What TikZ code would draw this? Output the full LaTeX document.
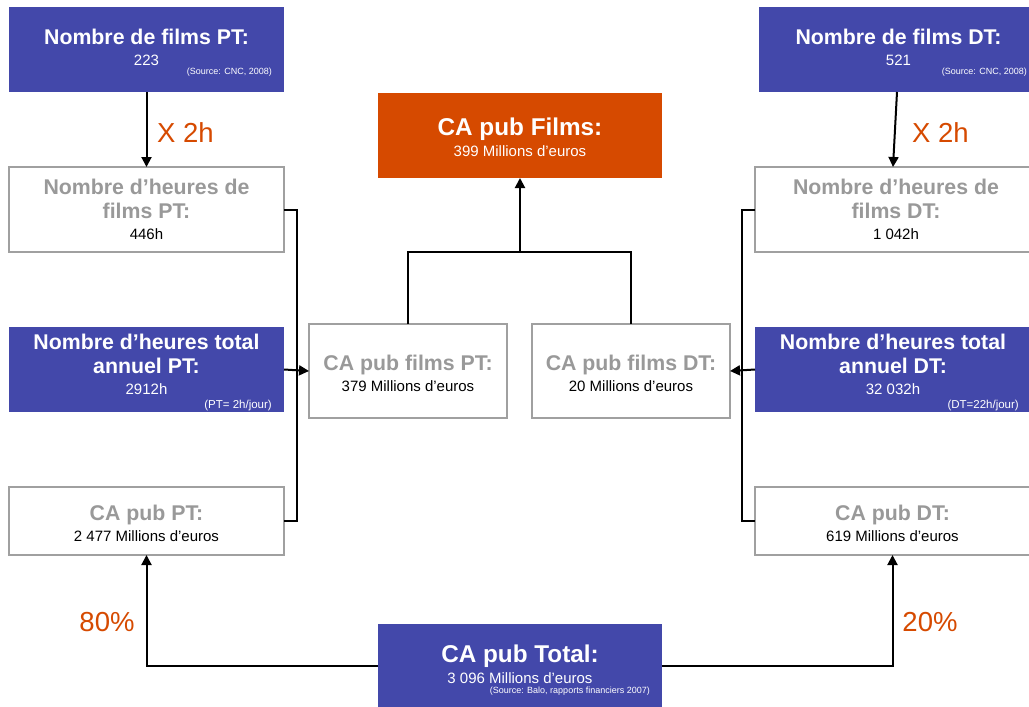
\documentclass[tikz,border=0pt]{standalone}
\usepackage{fontspec}
\setmainfont{Liberation Sans}
\usetikzlibrary{arrows.meta,calc}

\definecolor{boxblue}{RGB}{67,72,170}
\definecolor{boxorange}{RGB}{214,74,0}
\definecolor{labelorange}{RGB}{214,74,0}
\definecolor{framegray}{RGB}{160,160,160}
\definecolor{titlegray}{RGB}{153,153,153}

% title, big title, value text
\newcommand{\ttl}[1]{{\fontsize{21.3}{25}\selectfont\bfseries #1}}
\newcommand{\bigttl}[1]{{\fontsize{24.3}{28}\selectfont\bfseries #1}}
\newcommand{\midttl}[1]{{\fontsize{21.3}{25}\selectfont\bfseries #1}}
\newcommand{\val}[1]{{\fontsize{15}{18}\selectfont #1}}

\tikzset{
  basebox/.style={rectangle, inner sep=0pt, outer sep=0pt, align=center,
    font=\fontsize{15}{21}\selectfont},
  bluebox/.style={basebox, fill=boxblue, text=white},
  orangebox/.style={basebox, fill=boxorange, text=white},
  graybox/.style={basebox, draw=framegray, line width=1.5pt, fill=white},
  srcnote/.style={anchor=east, text=white, inner sep=0pt, font=\fontsize{9}{11}\selectfont},
  opnote/.style={text=labelorange, inner sep=0pt, font=\fontsize{27.5}{32}\selectfont},
  link/.style={draw=black, line width=2pt},
  arr/.style={link, -{Triangle[length=10pt,width=10pt]}},
}

\begin{document}
\begin{tikzpicture}[x=1pt,y=-1pt]
\clip (0,0) rectangle (1029,707);
\fill[white] (0,0) rectangle (1029,707);

% top source boxes
\node[bluebox, minimum width=275, minimum height=85] (fpt) at (146.5,49.5)
  {\ttl{Nombre de films PT:}\\\val{223}\\[-17pt]\mbox{}};
\node[srcnote] (fptsrc) at ([xshift=-12pt,yshift=20pt]fpt.south east) {(Source: CNC, 2008)};

\node[bluebox, minimum width=279, minimum height=85] (fdt) at (898.5,49.5)
  {\ttl{Nombre de films DT:}\\\val{521}\\[-17pt]\mbox{}};
\node[srcnote] (fdtsrc) at ([xshift=-11pt,yshift=20pt]fdt.south east) {(Source: CNC, 2008)};

% result box
\node[orangebox, minimum width=284, minimum height=85] (cafilms) at (520,135.5)
  {\bigttl{CA pub Films:}\\[0pt]\val{399 Millions d’euros}\\[-23.5pt]\mbox{}};

% hours of films
\node[graybox, minimum width=275, minimum height=85, text=titlegray] (hpt) at (146.5,209.5)
  {\ttl{Nombre d’heures de}\\[3pt]\ttl{films PT:}\\\textcolor{black}{\val{446h}}};
\node[graybox, minimum width=282, minimum height=85, text=titlegray] (hdt) at (896,209.5)
  {\ttl{Nombre d’heures de}\\[3pt]\ttl{films DT:}\\\textcolor{black}{\val{1 042h}}};

% total yearly hours
\node[bluebox, minimum width=275, minimum height=85] (htpt) at (146.5,369.5)
  {\ttl{Nombre d’heures total}\\[3pt]\ttl{annuel PT:}\\\val{2912h}\\[-11pt]\mbox{}};
\node[srcnote, font=\fontsize{11.5}{13}\selectfont] (htptsrc) at ([xshift=-12pt,yshift=6pt]htpt.south east) {(PT= 2h/jour)};

\node[bluebox, minimum width=276, minimum height=85] (htdt) at (893,369.5)
  {\ttl{Nombre d’heures total}\\[3pt]\ttl{annuel DT:}\\\val{32 032h}\\[-11pt]\mbox{}};
\node[srcnote, font=\fontsize{11.5}{13}\selectfont] (htdtsrc) at ([xshift=-12pt,yshift=6pt]htdt.south east) {(DT=22h/jour)};

% film advertising revenue
\node[graybox, minimum width=198, minimum height=94, text=titlegray] (fipt) at (408,371)
  {\midttl{CA pub films PT:}\\[0pt]\textcolor{black}{\val{379 Millions d’euros}}\\[-25pt]\mbox{}};
\node[graybox, minimum width=198, minimum height=94, text=titlegray] (fidt) at (631,371)
  {\midttl{CA pub films DT:}\\[0pt]\textcolor{black}{\val{20 Millions d’euros}}\\[-25pt]\mbox{}};

% advertising revenue per group
\node[graybox, minimum width=275, minimum height=68, text=titlegray] (capt) at (146.5,521)
  {\ttl{CA pub PT:}\\[0pt]\textcolor{black}{\val{2 477 Millions d’euros}}\\[-25pt]\mbox{}};
\node[graybox, minimum width=275, minimum height=68, text=titlegray] (cadt) at (892.5,521)
  {\ttl{CA pub DT:}\\[0pt]\textcolor{black}{\val{619 Millions d’euros}}\\[-25pt]\mbox{}};

% total advertising revenue
\node[bluebox, minimum width=284, minimum height=83] (total) at (520,665.5)
  {\bigttl{CA pub Total:}\\[0pt]\val{3 096 Millions d’euros}\\[-19pt]\mbox{}};
\node[srcnote] (totalsrc) at ([xshift=-12pt,yshift=15.5pt]total.south east) {(Source: Balo, rapports financiers 2007)};

% multiplication arrows
\draw[arr] (fpt.south) -- (hpt.north);
\draw[arr] ([xshift=-1.5pt]fdt.south) -- ([xshift=-3pt]hdt.north);
\node[opnote, anchor=west] (xpt) at (157,133) {X 2h};
\node[opnote, anchor=west] (xdt) at (912,133) {X 2h};

% left bracket and arrow
\draw[link] (hpt.east) -- ++(13,0) |- (capt.east);
\draw[arr] (htpt.east) -- (fipt.west);

% right bracket and arrow
\draw[link] (hdt.west) -- ++(-13,0) |- (cadt.west);
\draw[arr] (htdt.west) -- (fidt.east);

% sum of film revenues
\coordinate (join) at (520,252);
\draw[link] (fipt.north) |- (join) -| (fidt.north);
\draw[arr] (join) -- (cafilms.south);

% split of total revenue
\draw[arr] (total.west) -| (capt.south);
\draw[arr] (total.east) -| (cadt.south);
\node[opnote] (ppt) at (107,622) {80\%};
\node[opnote] (pdt) at (930,622) {20\%};
\end{tikzpicture}
\end{document}
